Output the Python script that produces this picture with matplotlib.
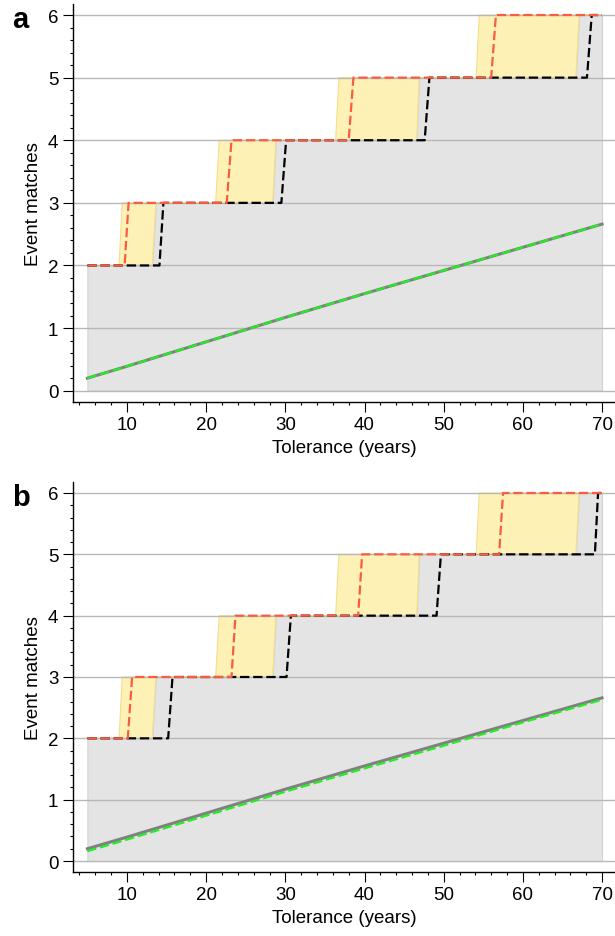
import matplotlib

matplotlib.use("Agg")
import matplotlib.pyplot as plt
from matplotlib.ticker import MultipleLocator

plt.rcParams["font.family"] = ["Liberation Sans", "DejaVu Sans"]

# number of matched events along every step curve
STEP_Y = [2, 2, 3, 3, 4, 4, 5, 5, 6, 6]

# yellow band: earliest / latest tolerance at which each extra match shows up
EARLY_X = [5, 9.0, 9.4, 21.2, 21.65, 36.35, 36.77, 54.1, 54.5, 70]
LATE_X = [5, 13.2, 13.65, 28.4, 28.8, 46.6, 46.9, 66.7, 67.1, 70]

# panel a step curves (tolerance breakpoints)
BLACK_A_X = [5, 14.1, 14.6, 29.5, 30.1, 47.6, 48.2, 68.1, 68.7, 70]
RED_A_X = [5, 9.7, 10.2, 22.6, 23.2, 38.0, 38.6, 56.0, 56.6, 70]

# panel b step curves
BLACK_B_X = [5, 15.2, 15.75, 30.15, 30.7, 49.1, 49.65, 69.1, 69.5, 70]
RED_B_X = [5, 10.1, 10.65, 23.2, 23.7, 39.2, 39.7, 57.0, 57.5, 70]

# random-match baselines
LINE_TOL = [5, 10, 20, 30, 40, 50, 60, 70]
GREY_A = [0.20, 0.39, 0.78, 1.17, 1.55, 1.92, 2.29, 2.66]
GREEN_A = [0.20, 0.39, 0.78, 1.17, 1.55, 1.92, 2.29, 2.66]
GREY_B = [0.20, 0.39, 0.78, 1.17, 1.55, 1.92, 2.29, 2.66]
GREEN_B = [0.16, 0.35, 0.74, 1.13, 1.51, 1.88, 2.26, 2.63]

FONT_SIZE = 13.5
DASHES = (4.2, 1.7)


def draw_panel(ax, black_x, red_x, grey, green):
    """Draw one panel: gray/yellow areas, step curves and baselines."""
    ax.fill_between(
        LATE_X, 0, STEP_Y, facecolor="#e4e4e4", edgecolor="#d2d2d2",
        linewidth=0.8, zorder=0.2,
    )
    ax.fill(
        EARLY_X + LATE_X[::-1], STEP_Y + STEP_Y[::-1],
        facecolor="#fdf1b6", edgecolor="#f1df8e", linewidth=0.8, zorder=0.3,
    )

    ax.plot(black_x, STEP_Y, color="black", dashes=DASHES, linewidth=1.6)
    ax.plot(red_x, STEP_Y, color="#fa5c42", dashes=DASHES, linewidth=1.6)

    ax.plot(LINE_TOL, grey, color="#808080", linewidth=2.2)
    ax.plot(LINE_TOL, green, color="#22ee22", dashes=DASHES, linewidth=1.6)

    ax.set_xlim(3.18, 71.64)
    ax.set_ylim(-0.176, 6.176)
    ax.xaxis.set_major_locator(MultipleLocator(10))
    ax.xaxis.set_minor_locator(MultipleLocator(2))
    ax.yaxis.set_major_locator(MultipleLocator(1))
    ax.yaxis.set_minor_locator(MultipleLocator(0.2))

    ax.set_axisbelow(True)
    ax.grid(axis="y", which="major", color="#b8b8b8", linewidth=1.0)

    for side in ("top", "right"):
        ax.spines[side].set_visible(False)
    for side in ("left", "bottom"):
        ax.spines[side].set_linewidth(1.0)

    ax.tick_params(which="major", direction="out", length=7, width=0.8,
                   labelsize=FONT_SIZE)
    ax.tick_params(which="minor", direction="out", length=2.5, width=0.8)

    ax.set_xlabel("Tolerance (years)", fontsize=FONT_SIZE)
    ax.set_ylabel("Event matches", fontsize=FONT_SIZE)


def main():
    fig = plt.figure(figsize=(6.15, 9.37), dpi=100)
    W, H = 615, 937

    ax_a = fig.add_axes([73 / W, 1 - 402.7 / H, 542 / W, 397.7 / H])
    ax_b = fig.add_axes([73 / W, 1 - 872.8 / H, 542 / W, 389.6 / H])

    draw_panel(ax_a, BLACK_A_X, RED_A_X, GREY_A, GREEN_A)
    draw_panel(ax_b, BLACK_B_X, RED_B_X, GREY_B, GREEN_B)

    fig.text(12 / W, 1 - 28 / H, "a", fontsize=21, fontweight="bold",
             ha="left", va="baseline")
    fig.text(12 / W, 1 - 506 / H, "b", fontsize=21, fontweight="bold",
             ha="left", va="baseline")

    fig.savefig("out.png", dpi=100)


if __name__ == "__main__":
    main()
